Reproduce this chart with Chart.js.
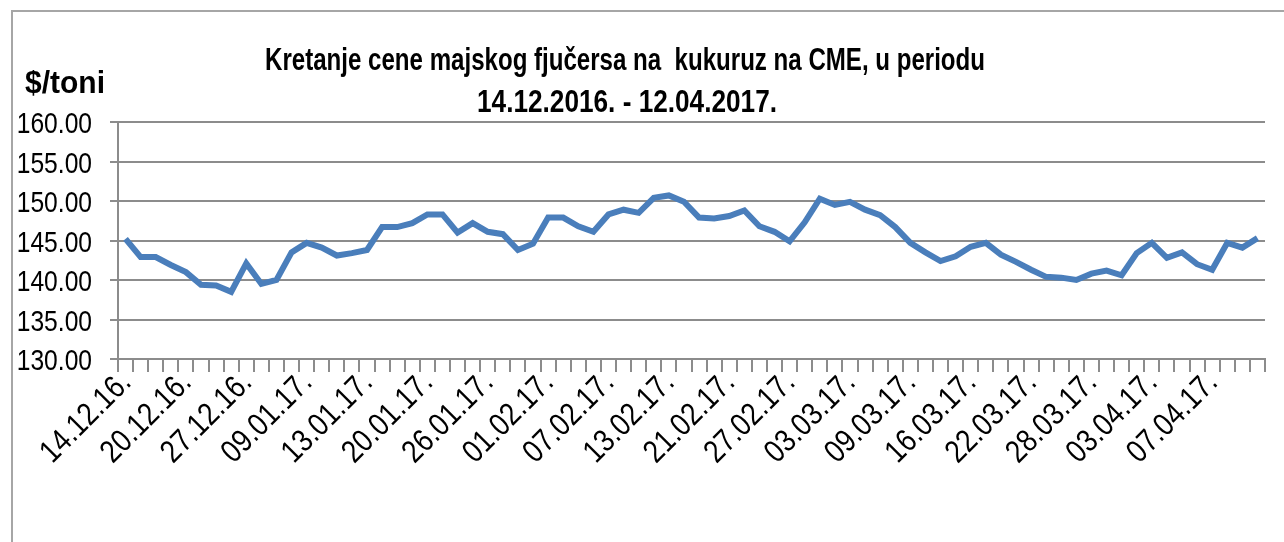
<!DOCTYPE html>
<html>
<head>
<meta charset="utf-8">
<script src="https://cdn.jsdelivr.net/npm/chart.js@4/dist/chart.umd.min.js"></script>
<style>
  html, body { margin: 0; padding: 0; background: #fff; }
  #wrap { width: 1284px; height: 542px; }
</style>
</head>
<body>
<div id="wrap"><canvas id="c" width="1284" height="542"></canvas></div>
<script>
// trading days shown on the x axis (every 4th label is printed)
const dates = [
  '14.12.16.', '15.12.16.', '16.12.16.', '19.12.16.', '20.12.16.', '21.12.16.', '22.12.16.', '23.12.16.',
  '27.12.16.', '29.12.16.', '30.12.16.', '06.01.17.', '09.01.17.', '10.01.17.', '11.01.17.', '12.01.17.',
  '13.01.17.', '17.01.17.', '18.01.17.', '19.01.17.', '20.01.17.', '23.01.17.', '24.01.17.', '25.01.17.',
  '26.01.17.', '27.01.17.', '30.01.17.', '31.01.17.', '01.02.17.', '02.02.17.', '03.02.17.', '06.02.17.',
  '07.02.17.', '08.02.17.', '09.02.17.', '10.02.17.', '13.02.17.', '14.02.17.', '15.02.17.', '16.02.17.',
  '21.02.17.', '22.02.17.', '23.02.17.', '24.02.17.', '27.02.17.', '28.02.17.', '01.03.17.', '02.03.17.',
  '03.03.17.', '06.03.17.', '07.03.17.', '08.03.17.', '09.03.17.', '10.03.17.', '13.03.17.', '14.03.17.',
  '16.03.17.', '17.03.17.', '20.03.17.', '21.03.17.', '22.03.17.', '23.03.17.', '24.03.17.', '27.03.17.',
  '28.03.17.', '29.03.17.', '30.03.17.', '31.03.17.', '03.04.17.', '04.04.17.', '05.04.17.', '06.04.17.',
  '07.04.17.', '10.04.17.', '11.04.17.', '12.04.17.'
];

// $/toni
const prices = [
  145.2, 142.9, 142.9, 141.9, 141.0, 139.4, 139.3, 138.5, 142.1, 139.5,
  140.0, 143.5, 144.7, 144.1, 143.1, 143.4, 143.8, 146.7, 146.7, 147.2,
  148.3, 148.3, 146.0, 147.2, 146.1, 145.8, 143.8, 144.6, 147.9, 147.9,
  146.8, 146.1, 148.3, 148.9, 148.5, 150.4, 150.7, 149.9, 147.9, 147.8,
  148.1, 148.8, 146.8, 146.1, 144.9, 147.3, 150.3, 149.5, 149.9, 148.9,
  148.2, 146.7, 144.7, 143.5, 142.4, 143.0, 144.2, 144.7, 143.2, 142.3,
  141.3, 140.4, 140.3, 140.0, 140.8, 141.2, 140.6, 143.4, 144.7, 142.8,
  143.5, 142.0, 141.3, 144.7, 144.1, 145.3
];

const titleLines = ['Kretanje cene majskog fjučersa na  kukuruz na CME, u periodu', '14.12.2016. - 12.04.2017.'];
const unitLabel = '$/toni';

const yMin = 130, yMax = 160, yStep = 5;
const labelEvery = 4;

const gridGray = '#8c8c8c';
const yTickFont = '30px "Liberation Sans", sans-serif';
const xTickFont = '32px "Liberation Sans", sans-serif';
const squeeze = 0.82; // original uses a narrow Calibri

// text drawn squeezed to a given width, like the condensed Calibri in the original
function fitText(ctx, text, cx, baseline, font, width) {
  ctx.save();
  ctx.font = font;
  const w = ctx.measureText(text).width;
  ctx.translate(cx, baseline);
  ctx.scale(width / w, 1);
  ctx.textAlign = 'center';
  ctx.textBaseline = 'alphabetic';
  ctx.fillStyle = '#000';
  ctx.fillText(text, 0, 0);
  ctx.restore();
}

const decor = {
  id: 'decor',
  beforeDraw(chart) {
    const ctx = chart.ctx;
    ctx.save();
    ctx.strokeStyle = '#a6a6a6';
    ctx.lineWidth = 2;
    ctx.beginPath();
    ctx.moveTo(12, 542);
    ctx.lineTo(12, 11);
    ctx.lineTo(1284, 11);
    ctx.stroke();
    ctx.restore();
  },
  afterDraw(chart) {
    const ctx = chart.ctx;
    fitText(ctx, titleLines[0], 625, 70, 'bold 32px "Liberation Sans"', 720);
    fitText(ctx, titleLines[1], 627, 112, 'bold 31px "Liberation Sans"', 300);
    fitText(ctx, unitLabel, 65, 93, 'bold 31px "Liberation Sans"', 80);

    // y tick labels
    const ys = chart.scales.y;
    ctx.save();
    ctx.font = yTickFont;
    ctx.fillStyle = '#000';
    ctx.textAlign = 'right';
    ctx.textBaseline = 'middle';
    ys.ticks.forEach(t => {
      const y = ys.getPixelForValue(t.value);
      ctx.save();
      ctx.translate(92, y + 3);
      ctx.scale(squeeze, 1);
      ctx.fillText(t.value.toFixed(2), 0, 0);
      ctx.restore();
    });

    // x tick labels, rotated 45 degrees
    const xs = chart.scales.x;
    ctx.font = xTickFont;
    ctx.textBaseline = 'alphabetic';
    dates.forEach((d, i) => {
      if (i % labelEvery !== 0) return;
      const x = xs.getPixelForValue(i);
      ctx.save();
      ctx.translate(x + 7, 384);
      ctx.rotate(-Math.PI / 4);
      ctx.scale(0.85, 1);
      ctx.fillText(d, 0, 0);
      ctx.restore();
    });
    ctx.restore();
  }
};

new Chart(document.getElementById('c'), {
  type: 'line',
  data: {
    labels: dates,
    datasets: [{
      data: prices,
      borderColor: '#4a7ebb',
      borderWidth: 6,
      pointRadius: 0,
      tension: 0,
      fill: false
    }]
  },
  options: {
    responsive: false,
    animation: false,
    layout: { padding: { top: 122, right: 19, left: 0, bottom: 0 } },
    plugins: { legend: { display: false }, title: { display: false }, tooltip: { enabled: false } },
    scales: {
      x: {
        offset: true,
        grid: { offset: true, drawOnChartArea: false, color: gridGray, lineWidth: 2, tickLength: 13 },
        border: { display: true, color: gridGray, width: 2 },
        ticks: { display: false, autoSkip: false },
        afterFit(scale) { scale.height = 183; }
      },
      y: {
        min: yMin,
        max: yMax,
        grid: { color: gridGray, lineWidth: 2, tickLength: 8 },
        border: { display: true, color: gridGray, width: 2 },
        ticks: { display: false, stepSize: yStep },
        afterFit(scale) { scale.width = 118; }
      }
    }
  },
  plugins: [decor]
});
</script>
</body>
</html>
